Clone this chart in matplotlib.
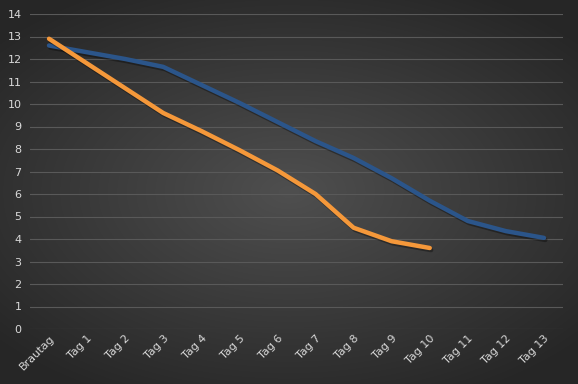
import numpy as np
import matplotlib.pyplot as plt
import matplotlib.patheffects as pe

categories = ["Brautag"] + [f"Tag {i}" for i in range(1, 14)]
blue_vals = [12.6, 12.3, 12.0, 11.65, 10.85, 10.05, 9.2, 8.35, 7.6, 6.7, 5.7, 4.8, 4.35, 4.05]
orange_vals = [12.9, 11.8, 10.7, 9.6, 8.8, 7.95, 7.05, 6.0, 4.5, 3.9, 3.6]

fig = plt.figure(figsize=(5.78, 3.84), dpi=100)

# radial gradient background
bg = fig.add_axes([0, 0, 1, 1], zorder=0)
yy, xx = np.mgrid[-1:1:384j, -1:1:578j]
r = np.sqrt((xx * 0.85) ** 2 + (yy * 0.95) ** 2)
shade = np.clip(0.31 - 0.14 * r, 0.15, 0.31)
bg.imshow(np.dstack([shade, shade, shade]), aspect="auto", extent=[0, 1, 0, 1])
bg.axis("off")

ax = fig.add_axes([30 / 578, 55 / 384, 533 / 578, 315 / 384], zorder=1)
ax.patch.set_alpha(0)

x = np.arange(len(categories))
shadow = [pe.SimpleLineShadow(offset=(1, -1.5), alpha=0.35, shadow_color="black"), pe.Normal()]
ax.plot(x, blue_vals, color="#2B558A", lw=3.2, solid_capstyle="round",
        solid_joinstyle="round", path_effects=shadow)
ax.plot(x[:len(orange_vals)], orange_vals, color="#F5983A", lw=3.2, solid_capstyle="round",
        solid_joinstyle="round", path_effects=shadow)

ax.set_xlim(-0.5, len(categories) - 0.5)
ax.set_ylim(0, 14)
ax.set_yticks(range(0, 15))
ax.set_xticks(x)
ax.set_xticklabels(categories, rotation=45, ha="right", rotation_mode="anchor")
ax.grid(axis="y", color="#595959", lw=0.8)
ax.set_axisbelow(True)
for s in ax.spines.values():
    s.set_visible(False)
ax.tick_params(length=0, colors="#D9D9D9", labelsize=8)
ax.tick_params(axis="y", pad=6)
ax.tick_params(axis="x", pad=3)

fig.savefig("out.png", dpi=100)
